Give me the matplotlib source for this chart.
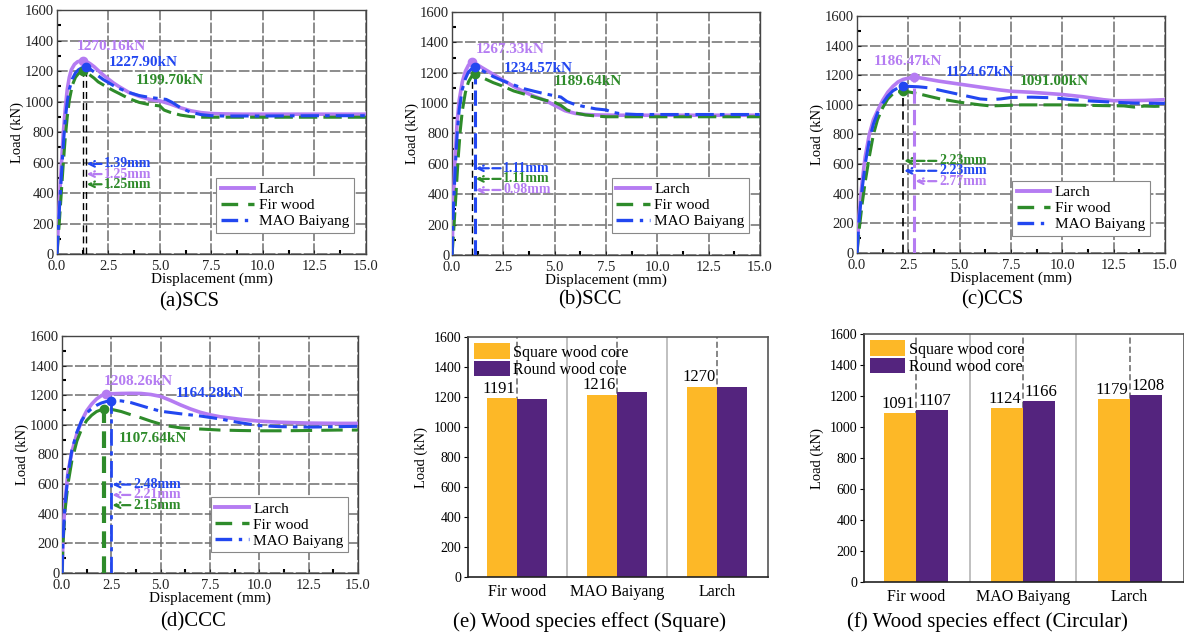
import matplotlib.pyplot as plt
from matplotlib.lines import Line2D
from matplotlib.ticker import MultipleLocator

plt.rcParams['font.family'] = ['Liberation Serif', 'DejaVu Serif']

# cores
VIOLETA = '#B57CF2'
AZUL = '#2247F0'
VERDE = '#2E8B2A'
LARANJA = '#FDB827'
ROXO = '#54247E'

# ---------------- dados: curvas carga-deslocamento ----------------
# (a) SCS
a_larch_x = [0, 0.1, 0.2, 0.3, 0.4, 0.5, 0.6, 0.7, 0.85, 1.0, 1.15, 1.25, 1.4, 1.6, 1.8, 2.0, 2.25, 2.5,
             2.75, 3.0, 3.5, 4.0, 4.5, 5.0, 5.5, 6.0, 6.5, 7.0, 7.5, 8.0, 9.0, 10, 12.5, 15]
a_larch_y = [0, 300, 550, 780, 950, 1080, 1160, 1210, 1245, 1262, 1268, 1270, 1265, 1250, 1230, 1205, 1175, 1148,
             1122, 1100, 1060, 1035, 1015, 1005, 985, 960, 940, 928, 922, 920, 918, 918, 918, 918]
a_fir_x = [0, 0.1, 0.2, 0.3, 0.4, 0.5, 0.6, 0.75, 0.9, 1.05, 1.25, 1.4, 1.6, 1.8, 2.0, 2.25, 2.5, 2.75,
           3.0, 3.5, 4.0, 4.5, 5.0, 5.2, 5.5, 6.0, 6.5, 7.0, 7.5, 10, 12.5, 15]
a_fir_y = [0, 180, 380, 580, 760, 900, 1010, 1110, 1160, 1185, 1200, 1195, 1175, 1155, 1130, 1110, 1090, 1072,
           1055, 1020, 995, 980, 972, 945, 930, 912, 902, 898, 898, 898, 898, 898]
a_mao_x = [0, 0.1, 0.2, 0.3, 0.4, 0.5, 0.6, 0.75, 0.9, 1.05, 1.2, 1.39, 1.6, 1.8, 2.0, 2.25, 2.5, 2.75,
           3.0, 3.5, 4.0, 4.5, 5.0, 5.3, 5.6, 6.0, 6.5, 7.0, 7.5, 8.0, 10, 12.5, 15]
a_mao_y = [0, 250, 480, 700, 880, 1000, 1080, 1150, 1190, 1210, 1222, 1228, 1215, 1195, 1170, 1145, 1125, 1105,
           1088, 1060, 1040, 1028, 1020, 1015, 995, 960, 930, 915, 908, 906, 906, 908, 908]

# (b) SCC
b_larch_x = [0, 0.05, 0.15, 0.25, 0.35, 0.5, 0.65, 0.8, 0.98, 1.2, 1.5, 2.0, 2.5, 3.0, 3.5, 4.0, 4.5, 5.0,
             5.5, 6.0, 6.5, 7.0, 8.0, 10, 15]
b_larch_y = [0, 300, 650, 880, 1020, 1140, 1210, 1250, 1267, 1255, 1230, 1190, 1150, 1110, 1075, 1045, 1020, 985,
             950, 932, 925, 922, 920, 920, 920]
b_fir_x = [0, 0.1, 0.2, 0.3, 0.4, 0.5, 0.65, 0.8, 0.95, 1.11, 1.3, 1.6, 2.0, 2.5, 3.0, 3.5, 4.0, 4.5, 5.0,
           5.3, 5.6, 6.0, 6.5, 7.0, 7.5, 10, 15]
b_fir_y = [0, 200, 420, 640, 820, 950, 1070, 1140, 1175, 1190, 1180, 1160, 1135, 1110, 1080, 1060, 1040, 1020, 1005,
           985, 955, 935, 922, 915, 910, 910, 910]
b_mao_x = [0, 0.05, 0.15, 0.25, 0.35, 0.5, 0.65, 0.8, 0.95, 1.11, 1.3, 1.6, 2.0, 2.5, 3.0, 3.5, 4.0, 4.5, 5.0,
           5.3, 5.6, 6.0, 6.5, 7.0, 7.5, 7.8, 8.2, 9.0, 10, 15]
b_mao_y = [0, 250, 560, 800, 960, 1090, 1160, 1205, 1225, 1235, 1225, 1205, 1175, 1145, 1120, 1095, 1078, 1062, 1048,
           1040, 1010, 990, 975, 962, 955, 940, 930, 925, 925, 925]

# (c) CCS
c_larch_x = [0, 0.1, 0.25, 0.4, 0.6, 0.8, 1.0, 1.25, 1.5, 1.75, 2.0, 2.25, 2.5, 2.77, 3.0, 3.5, 4.0, 5.0, 6.0,
             7.0, 7.5, 8.5, 10, 11, 12, 12.5, 13, 14, 15]
c_larch_y = [0, 250, 480, 650, 800, 900, 960, 1030, 1085, 1125, 1155, 1172, 1180, 1186, 1184, 1172, 1160, 1140, 1120,
             1100, 1092, 1085, 1070, 1055, 1035, 1028, 1028, 1030, 1035]
c_fir_x = [0, 0.1, 0.25, 0.4, 0.6, 0.8, 1.0, 1.25, 1.5, 1.75, 2.0, 2.23, 2.5, 3.0, 3.5, 4.0, 5.0, 6.0, 6.5,
           7.0, 8.0, 10, 12, 13, 13.5, 14, 14.5, 15]
c_fir_y = [0, 150, 330, 480, 650, 800, 900, 980, 1040, 1075, 1088, 1091, 1088, 1075, 1058, 1042, 1018, 1000, 993,
           995, 1000, 1000, 995, 993, 985, 992, 990, 992]
c_mao_x = [0, 0.1, 0.25, 0.4, 0.6, 0.8, 1.0, 1.25, 1.5, 1.75, 2.0, 2.23, 2.5, 3.0, 3.5, 4.0, 4.5, 5.0, 5.5,
           6.0, 6.5, 7.0, 7.5, 8.5, 9.5, 10.5, 11.5, 12.5, 13.5, 15]
c_mao_y = [0, 220, 430, 600, 760, 870, 945, 1010, 1060, 1095, 1115, 1125, 1125, 1122, 1115, 1100, 1085, 1070, 1055,
           1040, 1035, 1040, 1050, 1052, 1048, 1035, 1025, 1018, 1012, 1010]

# (d) CCC
d_larch_x = [0, 0.05, 0.15, 0.3, 0.5, 0.75, 1.0, 1.25, 1.5, 1.75, 2.0, 2.21, 2.5, 3.0, 3.5, 4.0, 4.5, 5.0, 5.5,
             6.0, 6.5, 7.0, 7.5, 8.0, 9.0, 10, 11, 12.5, 14, 15]
d_larch_y = [0, 250, 480, 680, 820, 940, 1030, 1095, 1140, 1175, 1198, 1208, 1210, 1212, 1213, 1212, 1205, 1192, 1165,
             1135, 1108, 1085, 1068, 1055, 1038, 1025, 1018, 1012, 1010, 1010]
d_fir_x = [0, 0.05, 0.15, 0.3, 0.5, 0.75, 1.0, 1.25, 1.5, 1.75, 2.0, 2.15, 2.5, 3.0, 3.5, 4.0, 4.5, 5.0, 5.5,
           6.0, 7.0, 8.0, 9.0, 10, 11, 12.5, 14, 15]
d_fir_y = [0, 200, 420, 600, 760, 890, 975, 1030, 1065, 1090, 1103, 1108, 1105, 1090, 1068, 1048, 1025, 1005, 990,
           980, 972, 965, 962, 960, 960, 962, 965, 965]
d_mao_x = [0, 0.05, 0.15, 0.3, 0.5, 0.75, 1.0, 1.25, 1.5, 1.75, 2.0, 2.25, 2.48, 3.0, 3.5, 4.0, 4.5, 5.0, 6.0,
           7.0, 8.0, 9.0, 10, 11, 12.5, 14, 15]
d_mao_y = [0, 230, 460, 660, 830, 950, 1030, 1080, 1110, 1132, 1148, 1158, 1164, 1162, 1150, 1130, 1110, 1092, 1075,
           1060, 1040, 1015, 995, 988, 985, 988, 990]

# picos: (deslocamento, carga) para Larch, Fir, MAO
a_picos = [(1.25, 1270.16), (1.25, 1199.70), (1.39, 1227.90)]
b_picos = [(0.98, 1267.33), (1.11, 1189.64), (1.11, 1234.57)]
c_picos = [(2.77, 1186.47), (2.23, 1091.00), (2.23, 1124.67)]
d_picos = [(2.21, 1208.26), (2.15, 1107.64), (2.48, 1164.28)]

# ---------------- dados: barras ----------------
especies = ['Fir wood', 'MAO Baiyang', 'Larch']
e_quadrado = [1191, 1216, 1270]
e_redondo = [1190, 1235, 1267]
f_quadrado = [1091, 1124, 1179]
f_redondo = [1107, 1166, 1208]


def estilo_curvas(ax):
    ax.set_xlim(0, 15)
    ax.set_ylim(0, 1600)
    ax.xaxis.set_major_locator(MultipleLocator(2.5))
    ax.yaxis.set_major_locator(MultipleLocator(200))
    ax.xaxis.set_minor_locator(MultipleLocator(1.25))
    ax.yaxis.set_minor_locator(MultipleLocator(100))
    ax.xaxis.set_major_formatter(plt.FuncFormatter(lambda v, p: f'{v:.1f}'))
    ax.tick_params(which='major', direction='in', length=3, labelsize=10.5, colors='#222')
    ax.tick_params(axis='x', which='major', pad=4)
    ax.tick_params(axis='y', which='major', pad=2)
    ax.tick_params(which='minor', direction='in', length=3, width=1.5, colors='black')
    ax.grid(True, which='major', color='#6e6e6e', linestyle=(0, (7, 1.5)), linewidth=1.1)
    ax.set_axisbelow(True)
    for s in ax.spines.values():
        s.set_color('#444')
        s.set_linewidth(1.0)
    ax.set_xlabel('Displacement (mm)', fontsize=11, labelpad=0)
    ax.set_ylabel('Load (kN)', fontsize=10.5, labelpad=1)


def desenha_curvas(ax, curvas, picos, vlinhas, setas, rotulos, leg_pos, tracos):
    estilo_curvas(ax)
    cores = [VIOLETA, VERDE, AZUL]
    larguras = [2.6, 2.2, 2.2]
    for (x, y), cor, ls, lw in zip(curvas, cores, tracos, larguras):
        ax.plot(x, y, color=cor, linestyle=ls, linewidth=lw, zorder=3)
    for xv, yv, cor, ls, lw in vlinhas:
        ax.plot([xv, xv], [0, yv], color=cor, linestyle=ls, linewidth=lw, zorder=4)
    for (px, py), cor in zip(picos, cores):
        ax.plot(px, py, 'o', color=cor, markersize=6, zorder=5)
    for txt, xt, xp, yv, cor in setas:
        ax.annotate(txt, xy=(xp, yv), xytext=(xt, yv), ha='left', va='center', color=cor,
                    fontsize=10, fontweight='bold',
                    arrowprops=dict(arrowstyle='->', linestyle='--', color=cor, lw=1.6,
                                    shrinkA=0, shrinkB=0))
    for txt, xt, yt, cor in rotulos:
        ax.text(xt, yt, txt, ha='center', va='center', color=cor, fontsize=11, fontweight='bold')
    handles = [Line2D([], [], color=VIOLETA, lw=2.8, ls='-'),
               Line2D([], [], color=VERDE, lw=2.4, ls=(0, (5, 3))),
               Line2D([], [], color=AZUL, lw=2.4, ls=(0, (5, 2, 1, 2)))]
    leg = ax.legend(handles, ['Larch', 'Fir wood', 'MAO Baiyang'], loc='lower right',
                    bbox_to_anchor=leg_pos, fontsize=11, handlelength=2.2, handletextpad=0.3,
                    labelspacing=0.15, borderpad=0.3, fancybox=False, framealpha=1, edgecolor='#888')
    leg.get_frame().set_linewidth(0.8)


def desenha_barras(ax, quad, red, rotula_red, desloc):
    x = list(range(len(especies)))
    ax.set_xlim(-0.49, 2.51)
    ax.set_ylim(0, 1600)
    for xi in x:
        ax.axvline(xi, color='#666', linestyle=(0, (4, 2)), linewidth=1.1, zorder=0)
    for xs in (0.5, 1.5):
        ax.axvline(xs, color='#bbbbbb', linestyle='-', linewidth=1.3, zorder=0)
    ax.bar([xi - 0.15 for xi in x], quad, 0.3, color=LARANJA, zorder=2, label='Square wood core')
    ax.bar([xi + 0.15 for xi in x], red, 0.3, color=ROXO, zorder=2, label='Round wood core')
    for xi, v in zip(x, quad):
        ax.text(xi - 0.15 + desloc[0], v + 8, str(v), ha='center', va='bottom', fontsize=12)
    if rotula_red:
        for xi, v in zip(x, red):
            ax.text(xi + 0.15 + desloc[1], v + 8, str(v), ha='center', va='bottom', fontsize=12)
    ax.set_xticks(x)
    ax.set_xticklabels(especies, fontsize=11.5)
    ax.yaxis.set_major_locator(MultipleLocator(200))
    ax.tick_params(axis='x', length=0, pad=5)
    ax.tick_params(axis='y', labelsize=10, length=3, direction='out', pad=2)
    for s in ax.spines.values():
        s.set_color('#555')
        s.set_linewidth(1.2)
    ax.spines['left'].set_color('#222')
    ax.spines['bottom'].set_color('#222')
    ax.set_ylabel('Load (kN)', fontsize=10.5, labelpad=4)
    ax.legend(loc='upper left', fontsize=11.5, frameon=False, handlelength=2.2, handleheight=1.1,
              labelspacing=0.0, handletextpad=0.2, borderaxespad=0.2, borderpad=0.2)


fig = plt.figure(figsize=(11.84, 6.4), dpi=100)

ax_a = fig.add_axes([0.0481, 0.603, 0.261, 0.381])
ax_b = fig.add_axes([0.3818, 0.6016, 0.2601, 0.3797])
ax_c = fig.add_axes([0.7238, 0.6047, 0.2601, 0.3703])
ax_d = fig.add_axes([0.0524, 0.1047, 0.25, 0.3703])
ax_e = fig.add_axes([0.3953, 0.0984, 0.2534, 0.375])
ax_f = fig.add_axes([0.7297, 0.0906, 0.2703, 0.3875])

tracejado = (0, (6, 2))
traco_ponto = (0, (6, 2, 1.5, 2))

desenha_curvas(ax_a,
               [(a_larch_x, a_larch_y), (a_fir_x, a_fir_y), (a_mao_x, a_mao_y)], a_picos,
               [(1.25, 1270, 'black', (0, (5, 3)), 1.0), (1.39, 1228, 'black', (0, (5, 3)), 1.0)],
               [('1.39mm', 2.3, 1.45, 592, AZUL), ('1.25mm', 2.3, 1.45, 525, VIOLETA),
                ('1.25mm', 2.3, 1.45, 458, VERDE)],
               [('1270.16kN', 2.66, 1362, VIOLETA), ('1227.90kN', 4.2, 1256, AZUL),
                ('1199.70kN', 5.5, 1138, VERDE)],
               (0.985, 0.055), ['-', tracejado, traco_ponto])

desenha_curvas(ax_b,
               [(b_larch_x, b_larch_y), (b_fir_x, b_fir_y), (b_mao_x, b_mao_y)], b_picos,
               [(0.98, 1267, 'black', (0, (5, 3)), 1.0), (1.11, 1235, AZUL, (0, (5, 2)), 2.2)],
               [('1.11mm', 2.5, 1.15, 571, AZUL), ('1.11mm', 2.5, 1.15, 501, VERDE),
                ('0.98mm', 2.5, 1.15, 428, VIOLETA)],
               [('1267.33kN', 2.84, 1351, VIOLETA), ('1234.57kN', 4.2, 1226, AZUL),
                ('1189.64kN', 6.6, 1143, VERDE)],
               (0.99, 0.06), ['-', tracejado, traco_ponto])

desenha_curvas(ax_c,
               [(c_larch_x, c_larch_y), (c_fir_x, c_fir_y), (c_mao_x, c_mao_y)], c_picos,
               [(2.23, 1125, 'black', (0, (5, 3)), 1.2), (2.77, 1186, VIOLETA, (0, (5, 2)), 2.2)],
               [('2.23mm', 4.0, 2.3, 622, VERDE), ('2.23mm', 4.0, 2.3, 555, AZUL),
                ('2.77mm', 4.0, 2.85, 485, VIOLETA)],
               [('1186.47kN', 2.5, 1292, VIOLETA), ('1124.67kN', 6.0, 1218, AZUL),
                ('1091.00kN', 9.6, 1157, VERDE)],
               (0.975, 0.04), ['-', tracejado, (0, (7, 3))])

desenha_curvas(ax_d,
               [(d_larch_x, d_larch_y), (d_fir_x, d_fir_y), (d_mao_x, d_mao_y)], d_picos,
               [(2.15, 1108, VERDE, (0, (4, 2)), 3.0), (2.48, 1164, AZUL, traco_ponto, 2.0)],
               [('2.48mm', 3.6, 2.55, 597, AZUL), ('2.21mm', 3.6, 2.55, 527, VIOLETA),
                ('2.15mm', 3.6, 2.55, 458, VERDE)],
               [('1208.26kN', 3.85, 1295, VIOLETA), ('1164.28kN', 7.5, 1212, AZUL),
                ('1107.64kN', 4.6, 909, VERDE)],
               (0.993, 0.055), ['-', (0, (7, 3)), traco_ponto])

desenha_barras(ax_e, e_quadrado, e_redondo, False, (-0.03, 0))
desenha_barras(ax_f, f_quadrado, f_redondo, True, (-0.02, 0.02))

fig.text(0.160, 0.528, '(a)SCS', ha='center', va='center', fontsize=15)
fig.text(0.498, 0.531, '(b)SCC', ha='center', va='center', fontsize=15)
fig.text(0.838, 0.531, '(c)CCS', ha='center', va='center', fontsize=15)
fig.text(0.163, 0.028, '(d)CCC', ha='center', va='center', fontsize=15)
fig.text(0.498, 0.028, '(e) Wood species effect (Square)', ha='center', va='center', fontsize=15)
fig.text(0.834, 0.028, '(f) Wood species effect (Circular)', ha='center', va='center', fontsize=15)

fig.savefig('out.png', dpi=100)
